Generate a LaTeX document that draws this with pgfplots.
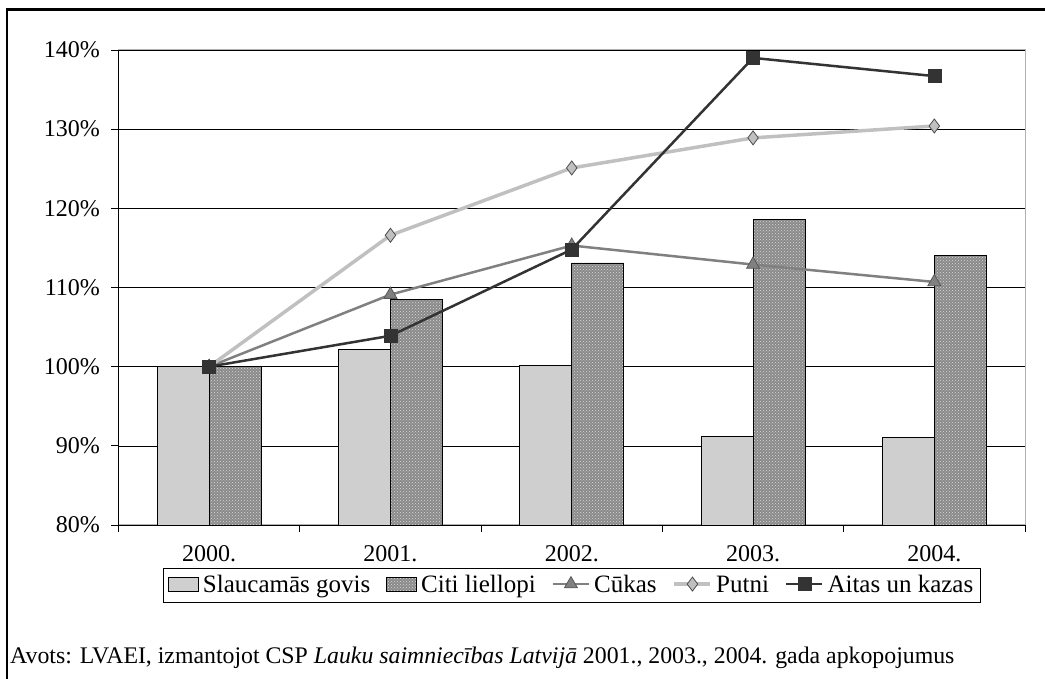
\documentclass[border=0pt]{standalone}
\usepackage{fontspec}
\setmainfont{Liberation Serif}
\usepackage{pgfplots}
\pgfplotsset{compat=1.18}
\usetikzlibrary{patterns}
\definecolor{cowfill}{HTML}{CFCFCF}
\definecolor{cattlefill}{HTML}{8A8A8A}
\definecolor{pigline}{HTML}{808080}
\definecolor{birdline}{HTML}{C0C0C0}
\definecolor{sheepline}{HTML}{333333}
\pgfplotsset{
  barleg/.style={legend image code/.code={\draw[##1, line width=0.8pt] (0pt,-6pt) rectangle (30pt,8pt);}},
  lineleg/.style={legend image code/.code={\draw[##1, mark repeat=2, mark phase=2] plot coordinates {(0pt,1pt) (18pt,1pt) (36pt,1pt)};}},
}
\begin{document}
\begin{tikzpicture}[x=1pt,y=1pt]
\useasboundingbox (0,0) rectangle (1045,679);
\draw[line width=2.5pt] (7,-2) -- (7,669.5) -- (1047,669.5);
\begin{axis}[
  at={(118.5pt,154pt)}, anchor=south west,
  scale only axis, width=906.5pt, height=475pt,
  xmin=-0.5, xmax=4.5, ymin=80, ymax=140,
  ytick={80,90,...,140},
  yticklabel={\pgfmathprintnumber{\tick}\%},
  xtick={-0.5,0.5,...,4.5},
  x tick label as interval,
  xticklabels={2000.,2001.,2002.,2003.,2004.},
  xtick pos=bottom, ytick pos=left,
  tick align=outside,
  major tick length=7pt,
  tick style={black, line width=0.8pt},
  ymajorgrids, grid style={black, line width=0.6pt},
  axis line style={gray!60, line width=1pt},
  /pgf/number format/assume math mode=true,
  tick label style={font=\fontsize{24}{28}\selectfont},
  xticklabel style={yshift=-10pt},
  yticklabel style={xshift=-8pt},
  clip=false,
  legend style={at={(0.5,-0.09)}, anchor=north, legend columns=-1,
    draw=black, line width=0.8pt, font=\fontsize{25}{28}\selectfont,
    /tikz/every even column/.append style={column sep=14pt},
    /tikz/every odd column/.append style={column sep=2pt},
    inner xsep=5pt, inner ysep=5.5pt},
  legend cell align=left,
]
\addplot[ybar, bar width=52pt, bar shift=-26pt, fill=cowfill, draw=black, line width=0.8pt, barleg]
  coordinates {(0,100) (1,102.2) (2,100.1) (3,91.2) (4,91.1)};
\addlegendentry{Slaucamās govis}
\addplot[ybar, bar width=52pt, bar shift=26pt, fill=cattlefill, draw=black, line width=0.8pt,
  postaction={pattern=crosshatch dots, pattern color=white!85!black}, barleg]
  coordinates {(0,100) (1,108.5) (2,113.1) (3,118.6) (4,114.0)};
\addlegendentry{Citi liellopi}
\addplot[pigline, line width=2.5pt, mark=triangle*, mark size=7.5pt,
  mark options={fill=pigline, draw=gray!70!black, line width=0.8pt}, lineleg]
  coordinates {(0,100) (1,109.1) (2,115.3) (3,112.9) (4,110.7)};
\addlegendentry{Cūkas}
\addplot[birdline, line width=3.5pt, mark=diamond*, mark size=7pt,
  mark options={fill=birdline, draw=gray!60!black, line width=0.8pt}, lineleg]
  coordinates {(0,100) (1,116.6) (2,125.1) (3,128.9) (4,130.4)};
\addlegendentry{Putni}
\addplot[sheepline, line width=2.5pt, mark=square*, mark size=6.5pt,
  mark options={fill=sheepline, draw=sheepline, line width=0.5pt}, lineleg]
  coordinates {(0,100) (1,103.9) (2,114.8) (3,139.0) (4,136.7)};
\addlegendentry{Aitas un kazas}
\draw[black, line width=1pt] (axis cs:-0.5,80) -- (axis cs:-0.5,140);
\end{axis}
\node[anchor=base west, inner sep=0pt, font=\fontsize{23.8}{28}\selectfont] at (10,15)
  {Avots: LVAEI, izmantojot CSP \textit{Lauku saimniecības Latvijā} 2001., 2003., 2004. gada apkopojumus};
\end{tikzpicture}
\end{document}
